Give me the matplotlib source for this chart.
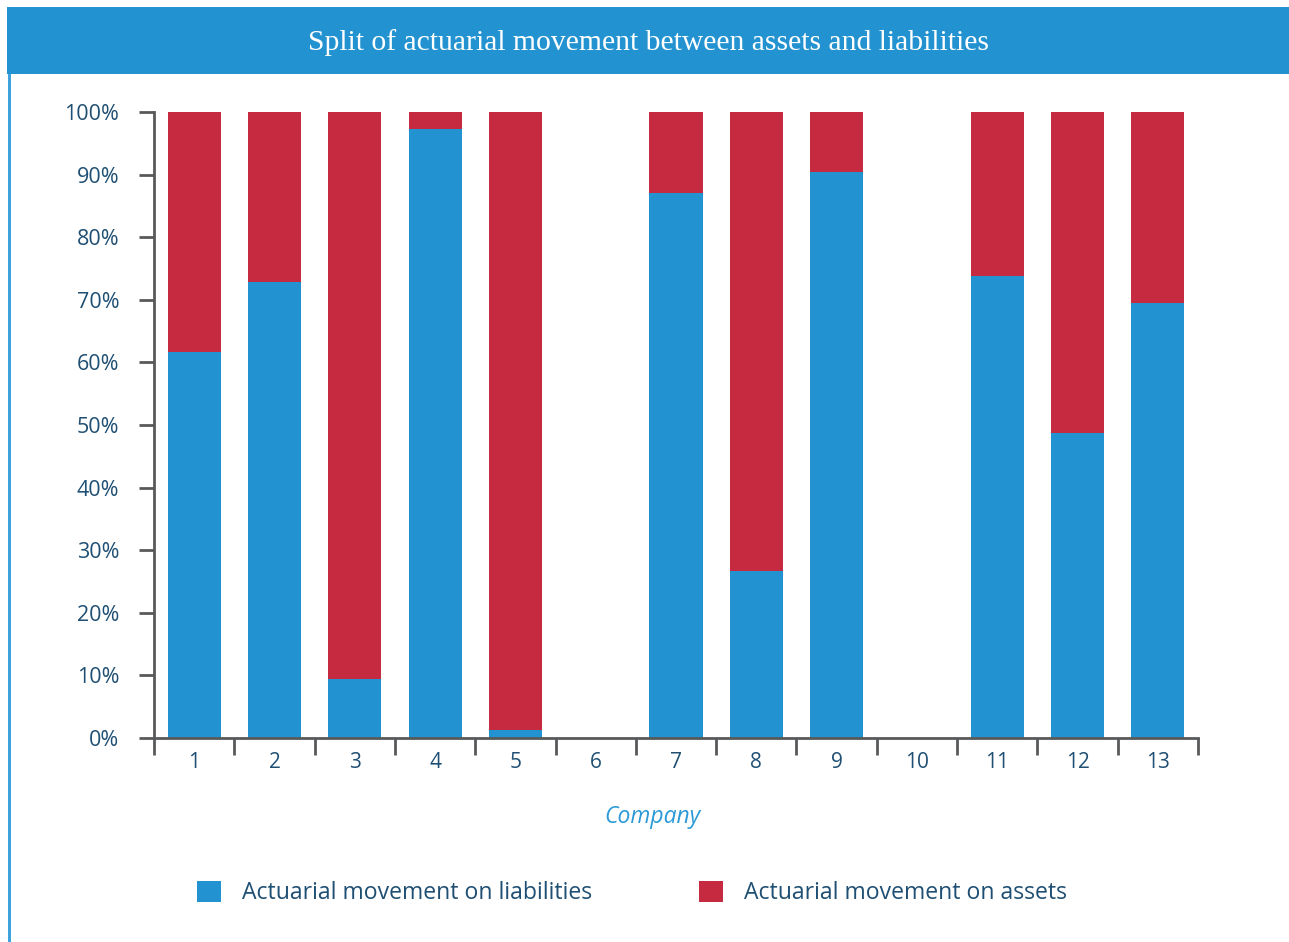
import matplotlib.pyplot as plt
from matplotlib.patches import Rectangle, Patch
import numpy as np

# data (share of actuarial movement, %)
companies = ["1", "2", "3", "4", "5", "6", "7", "8", "9", "10", "11", "12", "13"]
liabilities = [61.7, 72.8, 9.4, 97.3, 1.3, 0, 87.1, 26.7, 90.4, 0, 73.8, 48.7, 69.5]
assets = [38.3, 27.2, 90.6, 2.7, 98.7, 0, 12.9, 73.3, 9.6, 0, 26.2, 51.3, 30.5]
y_ticks = [0, 10, 20, 30, 40, 50, 60, 70, 80, 90, 100]

blue = "#2292d0"
red = "#c62a41"
label_col = "#1f4f73"
axis_col = "#58595b"

plt.rcParams['font.family'] = ['Open Sans', 'DejaVu Sans']

fig = plt.figure(figsize=(12.89, 9.42), dpi=100)

# title bar and left rule
fig.patches.append(Rectangle((7/1289, 1-74/942), 1-7/1289, 67/942, transform=fig.transFigure,
                             facecolor=blue, edgecolor="none", zorder=0))
fig.patches.append(Rectangle((8/1289, 0), 3/1289, 1-74/942, transform=fig.transFigure,
                             facecolor="#3ea3dc", edgecolor="none", zorder=0))
fig.text(648/1289, 1-43/942, "Split of actuarial movement between assets and liabilities",
         color="white", fontsize=21.3, family="Liberation Serif",
         ha="center", va="center")

ax = fig.add_axes([154/1289, 1-738/942, (1198-154)/1289, (738-112)/942])
x = np.arange(1, len(companies)+1)
w = 0.66
ax.bar(x, liabilities, w, color=blue, zorder=2)
ax.bar(x, assets, w, bottom=liabilities, color=red, zorder=2)

ax.set_xlim(0.5, len(companies)+0.5)
ax.set_ylim(0, 100)
ax.set_yticks(y_ticks)
ax.set_yticklabels([f"{v}%" for v in y_ticks])
ax.set_xticks(x)
ax.set_xticklabels(companies)
ax.set_xticks(np.arange(0.5, len(companies)+1, 1), minor=True)

for s in ["top", "right"]:
    ax.spines[s].set_visible(False)
for s in ["left", "bottom"]:
    ax.spines[s].set_color(axis_col)
    ax.spines[s].set_linewidth(2)
ax.spines["left"].set_zorder(3)

ax.tick_params(axis="y", length=11, width=2, color=axis_col, labelcolor=label_col,
               labelsize=15.5, pad=14)
ax.tick_params(axis="x", which="major", length=0, labelcolor=label_col, labelsize=15, pad=10)
ax.tick_params(axis="x", which="minor", length=12, width=2, color=axis_col)

fig.text(652/1289, 1-817/942, "Company", color="#2b9ad6", fontsize=16.5, style="italic",
         ha="center", va="center")

handles = [Patch(facecolor=blue, label="Actuarial movement on liabilities"),
           Patch(facecolor=red, label="Actuarial movement on assets")]
fig.legend(handles=handles, loc="center", bbox_to_anchor=(632/1289, 1-893/942), ncol=2,
           frameon=False, fontsize=16.6, labelcolor=label_col, handlelength=1.05,
           handleheight=1.05, handletextpad=0.9, columnspacing=4.65)

fig.savefig("out.png", dpi=100)
